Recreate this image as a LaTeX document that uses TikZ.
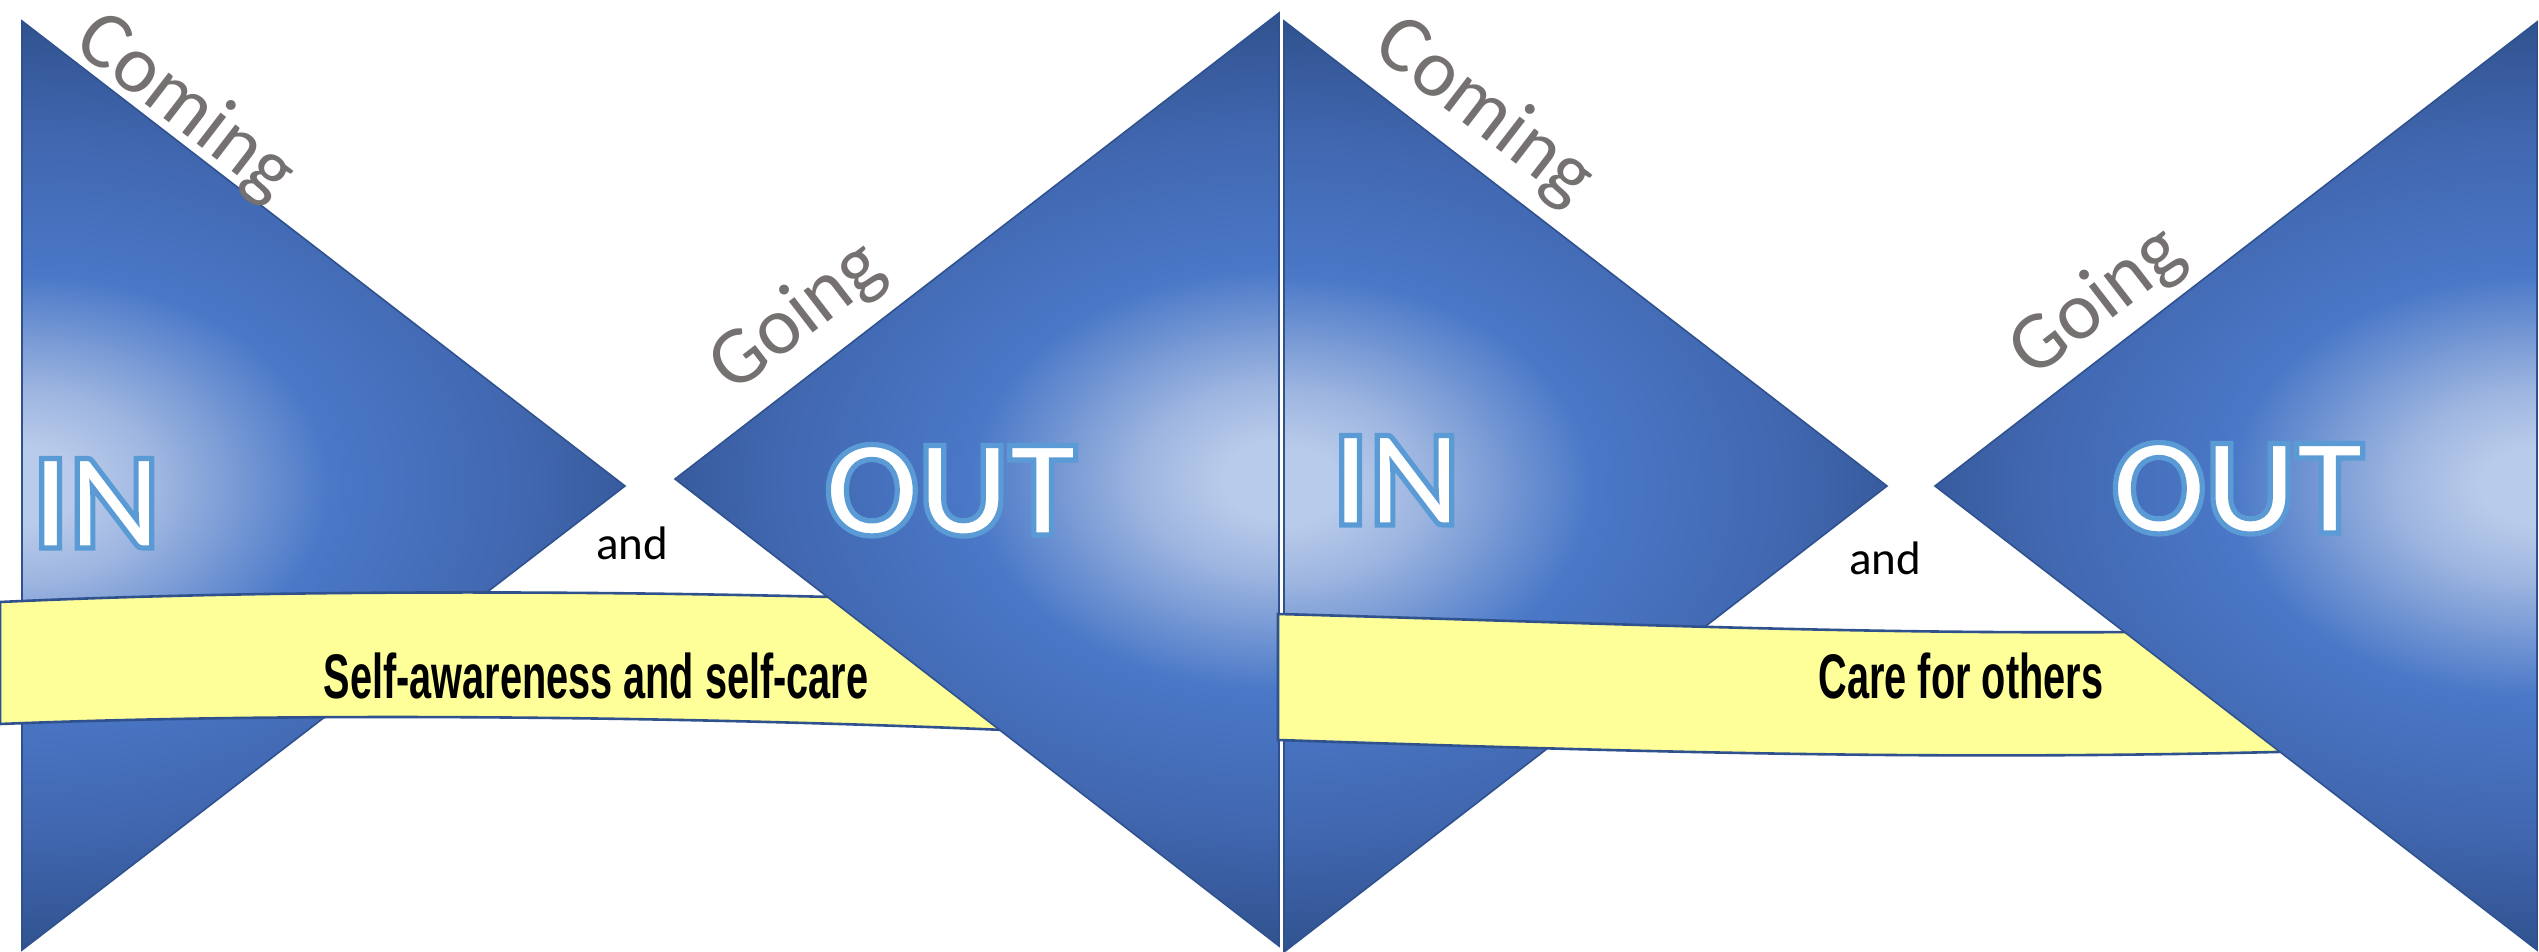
\documentclass[tikz,border=0pt]{standalone}
\usepackage{fontspec}
\setmainfont{Carlito}
\newfontfamily\bannerfont[FakeStretch=0.63]{Liberation Sans}
\newcommand\outlinetext[1]{\special{pdf:literal direct 2 Tr 2.6 w 0.357 0.608 0.835 RG}#1\special{pdf:literal direct 0 Tr}}
\definecolor{lightb}{HTML}{B9CBEA}
\definecolor{lightb2}{HTML}{9DB5E0}
\definecolor{midb}{HTML}{4A78C7}
\definecolor{midb2}{HTML}{4167B0}
\definecolor{darkb}{HTML}{2E508B}
\definecolor{edgeb}{HTML}{2F528F}
\definecolor{bannery}{HTML}{FFFF99}
\definecolor{graytxt}{HTML}{767171}
\pgfdeclareradialshading{blueglow}{\pgfpoint{0bp}{0bp}}{color(0bp)=(lightb); color(2bp)=(lightb); color(5bp)=(lightb2); color(11bp)=(midb); color(18bp)=(midb2); color(25bp)=(darkb); color(50bp)=(darkb)}
\begin{document}
\begin{tikzpicture}[x=0.5pt,y=-0.5pt,
  triedge/.style={draw=edgeb, line width=0.8pt, line join=miter},
  banner/.style={fill=bannery, draw=edgeb, line width=1.3pt},
  sidelbl/.style={text=graytxt, inner sep=0pt, font=\fontsize{41}{41}\selectfont},
  bigword/.style={anchor=base, inner sep=0pt, text=white, font=\bfseries\fontsize{69}{69}\selectfont},
  andlbl/.style={anchor=base, inner sep=0pt, text=black, font=\fontsize{23.5}{23.5}\selectfont},
  bantxt/.style={anchor=base, inner sep=0pt, text=black, font=\bannerfont\bfseries\fontsize{31.5}{31.5}\selectfont}]
\useasboundingbox (0,0) rectangle (2539,952);
\fill[white] (0,0) rectangle (2539,952);

% ---- left panel ----
\begin{scope}
  \clip (22,21) -- (625,486) -- (22,950) -- cycle;
  \shade[shading=blueglow] (22,485.5) ellipse [x radius=700, y radius=480];
\end{scope}
\draw[triedge] (22,21) -- (625,486) -- (22,950) -- cycle;
\draw[banner] (0,602) .. controls (300,588) and (700,590) .. (1050,604)
  -- (1050,732) .. controls (700,716) and (300,712) .. (0,724) -- cycle;
\node[bantxt] (band1) at (596,698) {Self-awareness and self-care};
\begin{scope}
  \clip (1279,13) -- (675,479) -- (1279,946) -- cycle;
  \shade[shading=blueglow] (1279,479.5) ellipse [x radius=700, y radius=480];
\end{scope}
\draw[triedge] (1279,13) -- (675,479) -- (1279,946) -- cycle;

% ---- right panel ----
\begin{scope}
  \clip (1284,21) -- (1887,486) -- (1284,952) -- cycle;
  \shade[shading=blueglow] (1284,486.5) ellipse [x radius=700, y radius=480];
\end{scope}
\draw[triedge] (1284,21) -- (1887,486) -- (1284,952) -- cycle;
\draw[banner] (1278,614) .. controls (1650,624) and (1950,640) .. (2350,628)
  -- (2350,750) .. controls (1950,762) and (1650,752) .. (1278,740) -- cycle;
\node[bantxt] (band2) at (1961,698) {Care for others};
\begin{scope}
  \clip (2537,22) -- (1935,486) -- (2537,950) -- cycle;
  \shade[shading=blueglow] (2537,486) ellipse [x radius=700, y radius=480];
\end{scope}
\draw[triedge] (2537,22) -- (1935,486) -- (2537,950) -- cycle;

% ---- labels ----
\node[sidelbl, rotate=-37.6] (coming1) at (185,108) {Coming};
\node[sidelbl, rotate=37.6] (going1) at (798,318) {Going};
\node[sidelbl, rotate=-37.6] (coming2) at (1484,112) {Coming};
\node[sidelbl, rotate=37.6] (going2) at (2098,303) {Going};

\node[bigword] (in1) at (96,548) {\outlinetext{IN}};
\node[bigword] (out1) at (951,535) {\outlinetext{OUT}};
\node[bigword] (in2) at (1396,525) {\outlinetext{IN}};
\node[bigword] (out2) at (2238,533) {\outlinetext{OUT}};

\node[andlbl] (and1) at (632,559) {and};
\node[andlbl] (and2) at (1885,574) {and};
\end{tikzpicture}
\end{document}
